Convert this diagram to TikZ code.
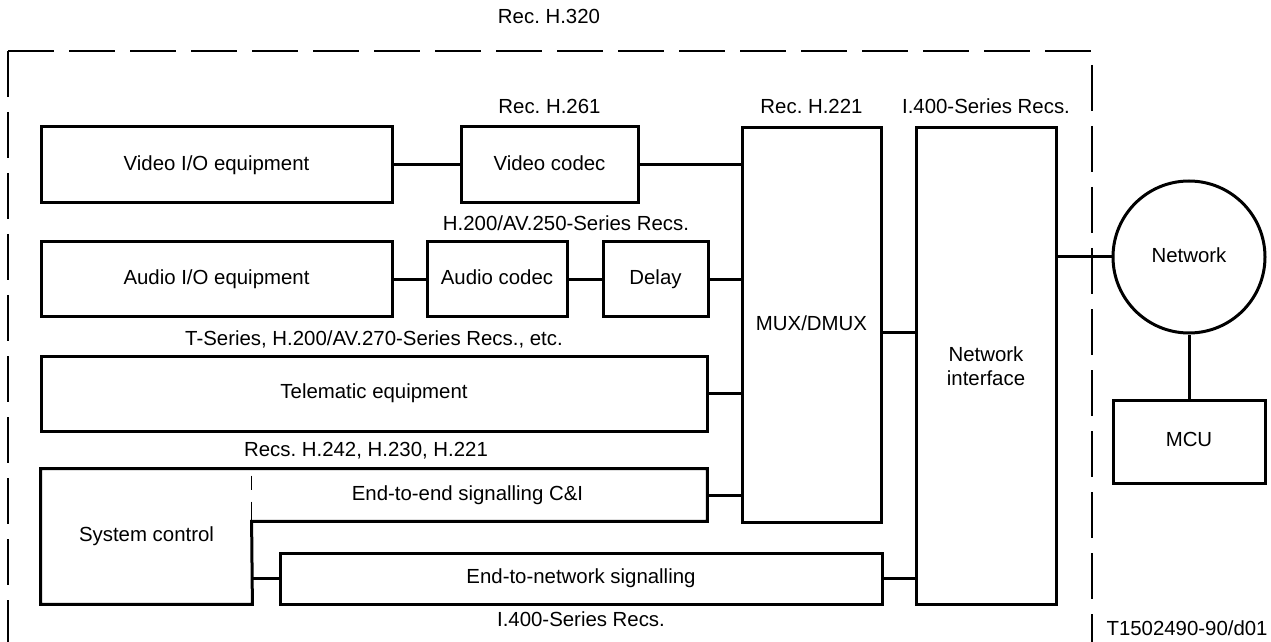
\documentclass[tikz,border=0pt]{standalone}
\usepackage{fontspec}
\setmainfont{Liberation Sans}

\begin{document}
\frenchspacing
\begin{tikzpicture}[x=0.5pt, y=-0.5pt,
        txt/.style={font=\fontsize{10.2}{12}\selectfont},
        box/.style={txt, draw, line width=1.5pt, inner sep=0pt},
        oneline/.style={text height=7.6pt, text depth=2.2pt},
        part/.style={txt, oneline, inner sep=0pt},
        lbl/.style={txt, oneline, inner sep=0pt},
        wire/.style={line width=1.5pt},
        frame/.style={line width=0.6pt, dash pattern=on 23pt off 7.5pt}]
                \useasboundingbox (0,0) rectangle (1271,642);
                % H.320 terminal boundary
                \draw[frame] (8,51) -- (1092,51) -- (1092,650);
                \draw[frame] (8,51) -- (8,650);
                \node[lbl] (recHthree) at (549,18) {Rec. H.320};
                % boxes
                \node[box, oneline, minimum width=175.5pt, minimum height=38pt] (videoio) at (216.5,165) {Video I/O equipment};
                \node[box, oneline, minimum width=88.5pt, minimum height=38pt] (videocodec) at (549.5,165) {Video codec};
                \node[box, oneline, minimum width=175.5pt, minimum height=37.5pt] (audioio) at (216.5,279.5) {Audio I/O equipment};
                \node[box, oneline, minimum width=70pt, minimum height=37.5pt] (audiocodec) at (497,279.5) {Audio codec};
                \node[box, oneline, minimum width=52.5pt, minimum height=37.5pt] (delay) at (655.5,279.5) {Delay};
                \node[box, oneline, minimum width=333pt, minimum height=37.5pt] (telematic) at (374,393.5) {Telematic equipment};
                \node[box, oneline, minimum width=69.5pt, minimum height=197pt] (mux) at (811.5,325) {MUX/DMUX};
                \node[box, minimum width=70pt, minimum height=238pt, align=center] (netif) at (986,366) {Network\\interface};
                \node[box, oneline, circle, minimum size=76pt] (network) at (1189,257) {Network};
                \node[box, oneline, minimum width=76pt, minimum height=41.5pt] (mcu) at (1189,441.5) {MCU};
                % system control and end-to-end signalling share one outline
                \node[part, minimum width=105.5pt, minimum height=67.5pt] (sysctl) at (146.5,536.5) {System control};
                \node[part, minimum width=227.5pt, minimum height=26pt] (endtoend) at (479.5,495) {\hspace{-12pt}End-to-end signalling C\&I};
                \draw[wire] (sysctl.north west) -- (endtoend.north east) -- (endtoend.south east)
                        -- (endtoend.south west) -- (sysctl.south east) -- (sysctl.south west) -- cycle;
                \draw[line width=0.6pt, dash pattern=on 0pt off 3.5pt on 7pt off 6pt on 10pt] (endtoend.north west) -- (endtoend.south west);
                \node[box, oneline, minimum width=301pt, minimum height=25.5pt] (endtonet) at (581,578.5) {End-to-network signalling};
                % labels
                \node[lbl] (recHtwosixone) at (549.5,108) {Rec. H.261};
                \node[lbl] (recHtwotwoone) at (811.5,108) {Rec. H.221};
                \node[lbl] (recIfourtop) at (986,108) {I.400-Series Recs.};
                \node[lbl] (recAVtwofive) at (566,225) {H.200/AV.250-Series Recs.};
                \node[lbl] (recTseries) at (374,340) {T-Series, H.200/AV.270-Series Recs., etc.};
                \node[lbl] (recsHtwofour) at (366,451) {Recs. H.242, H.230, H.221};
                \node[lbl] (recIfourbot) at (581,621) {I.400-Series Recs.};
                \node[lbl, anchor=east] (figref) at (1268,630) {T1502490-90/d01};
                % connectors
                \draw[wire] (videoio) -- (videocodec);
                \draw[wire] (videocodec.east) -- (videocodec.east -| mux.west);
                \draw[wire] (audioio) -- (audiocodec);
                \draw[wire] (audiocodec) -- (delay);
                \draw[wire] (delay.east) -- (delay.east -| mux.west);
                \draw[wire] (telematic.east) -- (telematic.east -| mux.west);
                \draw[wire] (endtoend.east) -- (endtoend.east -| mux.west);
                \draw[wire] ([yshift=-3.5pt]mux.east) -- ([yshift=-3.5pt]mux.east -| netif.west);
                \draw[wire] (endtonet.east) -- (endtonet.east -| netif.west);
                \draw[wire] (endtonet.west -| sysctl.east) -- (endtonet.west);
                \draw[wire] (network.west -| netif.east) -- (network.west);
                \draw[wire] (network) -- (mcu);
            \end{tikzpicture}
\end{document}
